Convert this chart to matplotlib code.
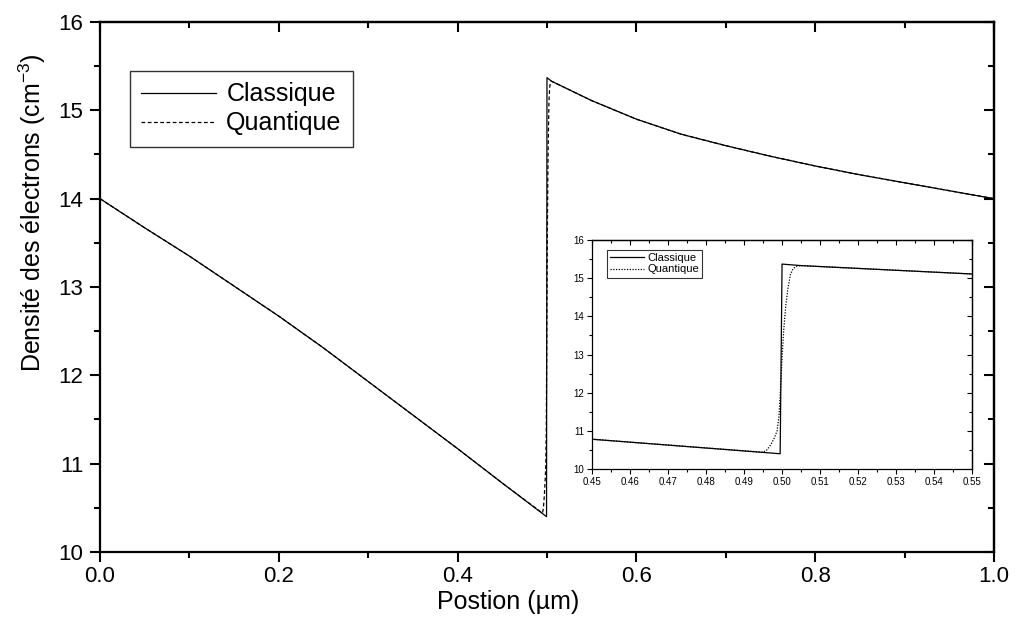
import matplotlib
matplotlib.use("Agg")
import matplotlib.pyplot as plt
from matplotlib.ticker import MultipleLocator, FormatStrFormatter

plt.rcParams['font.family'] = ['Liberation Sans', 'DejaVu Sans']
plt.rcParams['mathtext.fontset'] = 'custom'
plt.rcParams['mathtext.rm'] = 'Liberation Sans'
plt.rcParams['mathtext.it'] = 'Liberation Sans'
plt.rcParams['mathtext.default'] = 'regular'

# Electron density profiles (values in cm^-3, log scale exponent)
pos_classique = [0.00, 0.05, 0.10, 0.15, 0.20, 0.25, 0.30, 0.35, 0.40, 0.45,
                 0.4995, 0.5000, 0.505, 0.55, 0.60, 0.65, 0.70, 0.75, 0.80,
                 0.85, 0.90, 0.95, 1.00]
classique = [14.00, 13.67, 13.35, 13.01, 12.67, 12.31, 11.93, 11.55, 11.17, 10.78,
             10.40, 15.37, 15.33, 15.11, 14.90, 14.73, 14.60, 14.48, 14.37,
             14.27, 14.18, 14.09, 14.00]

pos_quantique = [0.00, 0.05, 0.10, 0.15, 0.20, 0.25, 0.30, 0.35, 0.40, 0.45,
                 0.4950, 0.4960, 0.4970, 0.4980, 0.4987, 0.4992, 0.4996, 0.5000,
                 0.5004, 0.5010, 0.5015, 0.5022, 0.5030, 0.5040, 0.5050,
                 0.55, 0.60, 0.65, 0.70, 0.75, 0.80, 0.85, 0.90, 0.95, 1.00]
quantique = [14.00, 13.67, 13.35, 13.01, 12.67, 12.31, 11.93, 11.55, 11.17, 10.78,
             10.44, 10.50, 10.63, 10.82, 11.00, 11.40, 12.10, 12.90,
             13.60, 14.30, 14.70, 15.10, 15.26, 15.32, 15.33,
             15.11, 14.90, 14.73, 14.60, 14.48, 14.37, 14.27, 14.18, 14.09, 14.00]

series_labels = ['Classique', 'Quantique']

fig = plt.figure(figsize=(10.15, 6.32), dpi=100)
ax = fig.add_axes([0.0985, 0.1266, 0.8808, 0.8386])

ax.plot(pos_classique, classique, color='black', lw=0.9, label=series_labels[0])
ax.plot(pos_quantique, quantique, color='black', lw=0.9, dashes=(3, 2),
        label=series_labels[1])

ax.set_xlim(0.0, 1.0)
ax.set_ylim(10, 16)
ax.xaxis.set_major_locator(MultipleLocator(0.2))
ax.xaxis.set_minor_locator(MultipleLocator(0.1))
ax.yaxis.set_major_locator(MultipleLocator(1))
ax.yaxis.set_minor_locator(MultipleLocator(0.5))
ax.xaxis.set_major_formatter(FormatStrFormatter('%.1f'))
for s in ax.spines.values():
    s.set_linewidth(1.6)
ax.tick_params(which='both', direction='out', width=1.5, labelsize=16,
               top=False, right=False)
ax.tick_params(which='major', length=7)
ax.tick_params(which='minor', length=4)
ax.tick_params(axis='y', pad=5)
ax.tick_params(axis='x', pad=3)

# inward ticks on the top and right frame
ax_top = ax.secondary_xaxis('top')
ax_top.xaxis.set_major_locator(MultipleLocator(0.2))
ax_top.xaxis.set_minor_locator(MultipleLocator(0.1))
ax_top.tick_params(which='both', direction='in', width=1.5, labeltop=False)
ax_top.tick_params(which='major', length=7)
ax_top.tick_params(which='minor', length=4)
ax_top.spines['top'].set_linewidth(1.6)
ax_right = ax.secondary_yaxis('right')
ax_right.yaxis.set_major_locator(MultipleLocator(1))
ax_right.yaxis.set_minor_locator(MultipleLocator(0.5))
ax_right.tick_params(which='both', direction='in', width=1.5, labelright=False)
ax_right.tick_params(which='major', length=7)
ax_right.tick_params(which='minor', length=4)
ax_right.spines['right'].set_linewidth(1.6)

ax.set_xlabel('Postion (µm)', fontsize=18)
ax.xaxis.set_label_coords(0.456, -0.072)
ax.set_ylabel('Densité des électrons (cm$^{-3}$)', fontsize=18)
ax.yaxis.set_label_coords(-0.058, 0.64)

leg = ax.legend(loc='upper left', bbox_to_anchor=(130 / 1015, 1 - 71 / 632),
                bbox_transform=fig.transFigure, borderaxespad=0,
                fontsize=18, frameon=True, fancybox=False, handlelength=3.0,
                handletextpad=0.4, borderpad=0.45, labelspacing=0.2)
leg.get_frame().set_edgecolor('black')
leg.get_frame().set_linewidth(1.0)

# zoom on the heterojunction
axi = fig.add_axes([0.5833, 0.2579, 0.3744, 0.3623])
axi.plot(pos_classique, classique, color='black', lw=0.9, label=series_labels[0])
axi.plot(pos_quantique, quantique, color='black', lw=0.9, dashes=(1, 1.2),
         label=series_labels[1])
axi.set_xlim(0.45, 0.55)
axi.set_ylim(10, 16)
axi.xaxis.set_major_locator(MultipleLocator(0.01))
axi.xaxis.set_minor_locator(MultipleLocator(0.005))
axi.yaxis.set_major_locator(MultipleLocator(1))
axi.yaxis.set_minor_locator(MultipleLocator(0.5))
axi.xaxis.set_major_formatter(FormatStrFormatter('%.2f'))
for s in axi.spines.values():
    s.set_linewidth(0.9)
axi.tick_params(which='both', direction='out', width=0.8, labelsize=7,
                top=False, right=False, pad=2)
axi.tick_params(which='major', length=3.5)
axi.tick_params(which='minor', length=2)
axi_top = axi.secondary_xaxis('top')
axi_top.xaxis.set_major_locator(MultipleLocator(0.01))
axi_top.xaxis.set_minor_locator(MultipleLocator(0.005))
axi_top.tick_params(which='both', direction='in', width=0.8, labeltop=False)
axi_top.tick_params(which='major', length=3.5)
axi_top.tick_params(which='minor', length=2)
axi_top.spines['top'].set_linewidth(0.9)
axi_right = axi.secondary_yaxis('right')
axi_right.yaxis.set_major_locator(MultipleLocator(1))
axi_right.yaxis.set_minor_locator(MultipleLocator(0.5))
axi_right.tick_params(which='both', direction='in', width=0.8, labelright=False)
axi_right.tick_params(which='major', length=3.5)
axi_right.tick_params(which='minor', length=2)
axi_right.spines['right'].set_linewidth(0.9)

legi = axi.legend(loc='upper left', bbox_to_anchor=(607 / 1015, 1 - 250 / 632),
                  bbox_transform=fig.transFigure, borderaxespad=0,
                  fontsize=8, frameon=True, fancybox=False, handlelength=3.0,
                  handletextpad=0.3, borderpad=0.3, labelspacing=0.1)
legi.get_frame().set_edgecolor('black')
legi.get_frame().set_linewidth(0.8)

fig.savefig('out.png', dpi=100)
